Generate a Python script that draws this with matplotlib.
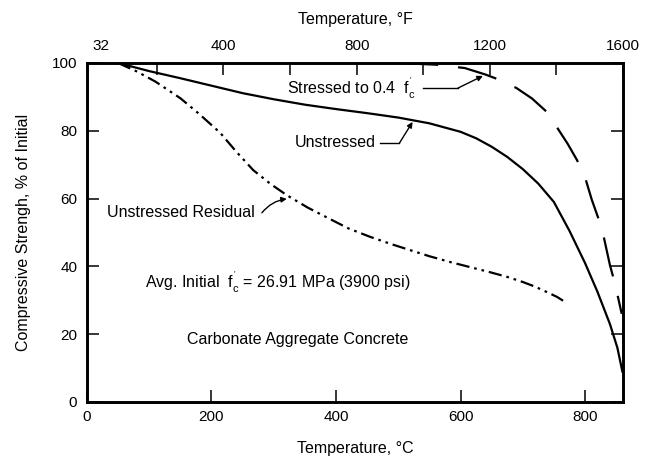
import matplotlib
matplotlib.use('Agg')
import matplotlib.pyplot as plt
import numpy as np

plt.rcParams['font.family'] = ['Liberation Sans', 'DejaVu Sans']
plt.rcParams['mathtext.fontset'] = 'custom'
plt.rcParams['mathtext.rm'] = 'Liberation Sans'
plt.rcParams['mathtext.it'] = 'Liberation Sans'

# strength curves, temperature in C, strength in % of initial
stressed_t = [500, 560, 607, 640, 663, 690, 715, 739, 755, 772, 787, 800, 811, 827, 840, 848, 859]
stressed_s = [100, 99.5, 98.5, 96.6, 95, 92.6, 89.5, 85.5, 81, 76.2, 71.4, 66.3, 59.6, 51.3, 40.4, 35, 26]

unstressed_t = [50, 100, 150, 200, 250, 300, 350, 400, 450, 500, 550, 600, 625, 650, 675,
                700, 725, 750, 775, 800, 820, 840, 852, 860]
unstressed_s = [100, 97.6, 95.5, 93.3, 91.1, 89.3, 87.7, 86.4, 85.2, 83.9, 82.2, 79.7, 77.8,
                75.3, 72.3, 68.7, 64.4, 59, 50.5, 41, 32.5, 23, 16, 9]

residual_t = [50, 80, 110, 150, 180, 214, 240, 267, 295, 321, 355, 390, 420, 455, 490, 519,
              550, 583, 615, 647, 675, 700, 720, 739, 755, 768]
residual_s = [100, 97.5, 94.5, 89.6, 85, 79.4, 73.8, 68.4, 64.3, 61, 57.3, 54, 51.2, 48.7,
              46.5, 44.8, 43, 41.3, 39.8, 38.3, 36.9, 35.4, 34, 32.4, 31, 29.5]

c_ticks = [0, 200, 400, 600, 800]
f_ticks = [32, 200, 400, 600, 800, 1000, 1200, 1400, 1600]
f_labels = ['32', '', '400', '', '800', '', '1200', '', '1600']
y_ticks = [0, 20, 40, 60, 80, 100]

fig = plt.figure(figsize=(6.52, 4.58), dpi=100)
ax = fig.add_axes([0.1334, 0.1223, 0.8221, 0.7402])

ax.plot(stressed_t, stressed_s, color='black', lw=1.6, dashes=(18, 9))
ax.plot(unstressed_t, unstressed_s, color='black', lw=1.6)
ax.plot(residual_t, residual_s, color='black', lw=1.6,
        dashes=(6, 2.2, 1.2, 2.2, 1.2, 2.2))

ax.set_xlim(0, 861)
ax.set_ylim(0, 100)
ax.set_xticks(c_ticks)
ax.set_yticks(y_ticks)
for s in ax.spines.values():
    s.set_linewidth(1.9)
ax.tick_params(axis='both', direction='in', length=8.5, width=1.1,
               labelsize=11, pad=6, right=True)
ax.tick_params(axis='y', pad=7)
ax.set_xlabel('Temperature, \u00b0C', fontsize=11.5, labelpad=12)
ax.set_ylabel('Compressive Strengh, % of Initial', fontsize=11.5, labelpad=15)

# Fahrenheit scale on top
ax2 = ax.twiny()
ax2.set_xlim(-10, 1600)
ax2.set_xticks(f_ticks)
ax2.set_xticklabels(f_labels)
ax2.tick_params(axis='x', direction='in', length=8.5, width=1.1,
                labelsize=11, pad=7)
ax2.xaxis.get_major_ticks()[0].tick2line.set_visible(False)
ax2.set_xlabel('Temperature, \u00b0F', fontsize=11.5, labelpad=11)
for s in ax2.spines.values():
    s.set_linewidth(1.9)

fs = 11.5
ax.text(321, 92.6, r"Stressed to 0.4  $\mathregular{f_c^{\,'}}$", fontsize=fs, va='center')
ax.text(334, 76.4, 'Unstressed', fontsize=fs, va='center')
ax.text(32, 55.8, 'Unstressed Residual', fontsize=fs, va='center')
ax.text(93, 35.4, r"Avg. Initial  $\mathregular{f_c^{\,'}}$ = 26.91 MPa (3900 psi)",
        fontsize=fs, va='center')
ax.text(161, 18.3, 'Carbonate Aggregate Concrete', fontsize=fs, va='center')

arrow = dict(arrowstyle='-|>', color='black', lw=1.0, mutation_scale=8,
             shrinkA=0, shrinkB=0)
# stressed label leader
ax.plot([540, 596], [92.6, 92.6], color='black', lw=1.0)
ax.annotate('', xy=(636, 96.2), xytext=(596, 92.6), arrowprops=arrow)
# unstressed label leader
ax.plot([470, 502], [76.4, 76.4], color='black', lw=1.0)
ax.annotate('', xy=(523, 82.6), xytext=(502, 76.4), arrowprops=arrow)
# residual label leader
ax.annotate('', xy=(321, 59.9), xytext=(281, 55.8),
            arrowprops=dict(arrow, connectionstyle='arc3,rad=-0.2'))

fig.savefig('out.png', dpi=100)
